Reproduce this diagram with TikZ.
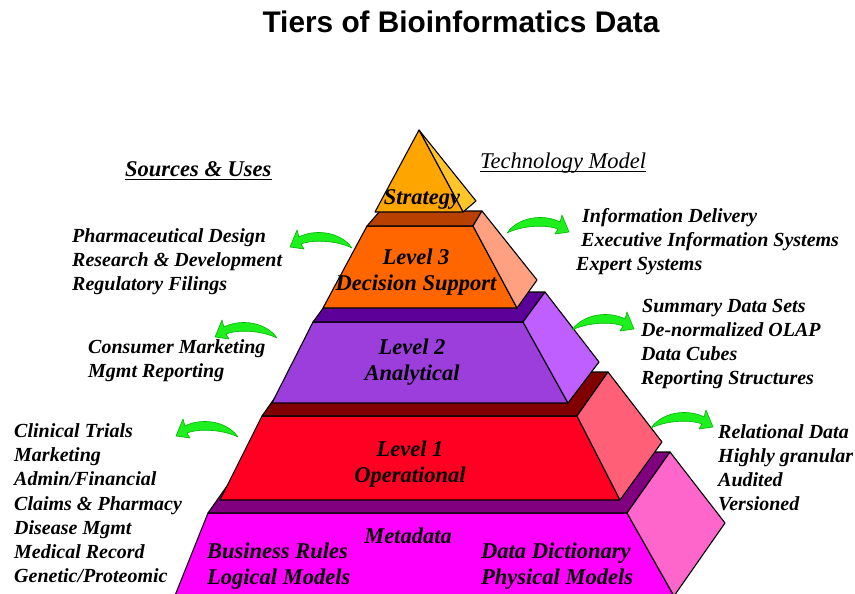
\documentclass[tikz,border=0pt]{standalone}
\usepackage{fontspec}
\setmainfont{Liberation Serif}
\newfontfamily\headfont{Liberation Sans}

% tier colours: front face, top face, side face
\definecolor{stratFront}{HTML}{FFA500}
\definecolor{stratSide}{HTML}{FFC52A}
\definecolor{lthreeFront}{HTML}{FF6600}
\definecolor{lthreeTop}{HTML}{B84000}
\definecolor{lthreeSide}{HTML}{FFA080}
\definecolor{ltwoFront}{HTML}{9B3EDC}
\definecolor{ltwoTop}{HTML}{5C0099}
\definecolor{ltwoSide}{HTML}{BF5FFF}
\definecolor{loneFront}{HTML}{FF0022}
\definecolor{loneTop}{HTML}{800000}
\definecolor{loneSide}{HTML}{FF6078}
\definecolor{metaFront}{HTML}{FF00FF}
\definecolor{metaTop}{HTML}{800080}
\definecolor{metaSide}{HTML}{FF66CC}
\definecolor{arrowgreen}{HTML}{1EF01E}
\definecolor{arrowedge}{HTML}{00B400}

\tikzset{
  face/.style={draw=black, line width=1.1pt, line join=round},
  tierlabel/.style={font=\fontsize{22.5}{27}\selectfont\bfseries\itshape, inner sep=0pt, anchor=base},
  tiernote/.style={font=\fontsize{22.5}{27}\selectfont\bfseries\itshape, inner sep=0pt, anchor=base west},
  usetext/.style={font=\fontsize{20}{24}\selectfont\bfseries\itshape, inner sep=0pt, anchor=base west},
  heading/.style={inner sep=0pt, anchor=base west},
  bentarrow/.pic={
    \filldraw[fill=arrowgreen, draw=arrowedge, line width=0.6pt, line join=round]
      (0,0) .. controls (12,-17) and (38,-19) .. (53,-11)
      -- (55,-18) -- (62,-1) -- (48,1) -- (51,-4)
      .. controls (38,-9) and (14,-7) .. (0,0) -- cycle;
  }
}

\begin{document}
\begin{tikzpicture}[x=1pt,y=-1pt]
\useasboundingbox (0,0) rectangle (855,594);
\clip (0,0) rectangle (855,594);

% ---- Metadata tier ----
\filldraw[face, fill=metaFront] (208,513) -- (627,513) -- (675,598) -- (174,598) -- cycle;
\filldraw[face, fill=metaTop] (208,513) -- (627,513) -- (670,452) -- (251,452) -- cycle;
\filldraw[face, fill=metaSide] (627,513) -- (670,452) -- (725,523) -- (674,596) -- cycle;

% ---- Level 1 ----
\filldraw[face, fill=loneFront] (262,416) -- (577,416) -- (620,500) -- (220,500) -- cycle;
\filldraw[face, fill=loneTop] (262,416) -- (577,416) -- (608,372) -- (293,372) -- cycle;
\filldraw[face, fill=loneSide] (577,416) -- (608,372) -- (662,442) -- (620,500) -- cycle;

% ---- Level 2 ----
\filldraw[face, fill=ltwoFront] (313,322) -- (523,322) -- (568,403) -- (272,403) -- cycle;
\filldraw[face, fill=ltwoTop] (313,322) -- (523,322) -- (545,292) -- (335,292) -- cycle;
\filldraw[face, fill=ltwoSide] (523,322) -- (545,292) -- (599,362) -- (568,403) -- cycle;

% ---- Level 3 ----
\filldraw[face, fill=lthreeFront] (367,226) -- (473,226) -- (517,308) -- (323,308) -- cycle;
\filldraw[face, fill=lthreeTop] (367,226) -- (473,226) -- (482,211) -- (380,211) -- cycle;
\filldraw[face, fill=lthreeSide] (473,226) -- (482,211) -- (537,280) -- (517,308) -- cycle;

% ---- Strategy apex ----
\filldraw[face, fill=stratSide] (419,130) -- (476,201) -- (463,212) -- cycle;
\filldraw[face, fill=stratFront] (419,130) -- (463,212) -- (375,212) -- cycle;

% ---- curved arrows to sources (left) and technology (right) ----
\pic[xscale=-1] at (352,248) {bentarrow};
\pic at (507,233) {bentarrow};
\pic[xscale=-1] at (277,338) {bentarrow};
\pic at (572,330) {bentarrow};
\pic[xscale=-1] at (238,437) {bentarrow};
\pic at (651,428) {bentarrow};

% ---- title and column headings ----
\node[inner sep=0pt, anchor=base, font=\headfont\fontsize{29.8}{34}\selectfont\bfseries]
  (title) at (461,33) {Tiers of Bioinformatics Data};
\node[heading, font=\fontsize{22.5}{27}\selectfont\bfseries\itshape] (srcHead) at (125,176) {Sources \& Uses};
\node[heading, font=\fontsize{22.5}{27}\selectfont\itshape] (techHead) at (480,168) {Technology Model};
\draw[line width=1.1pt] ([yshift=-3.5pt]srcHead.base west) -- ([yshift=-3.5pt]srcHead.base east);
\draw[line width=0.9pt] ([yshift=-3.5pt]techHead.base west) -- ([yshift=-3.5pt]techHead.base east);

% ---- tier labels ----
\node[tierlabel] (strat) at (422,204) {Strategy};
\node[tierlabel] (lthreeA) at (416,264) {Level 3};
\node[tierlabel] (lthreeB) at (416,290.5) {Decision Support};
\node[tierlabel] (ltwoA) at (412,354) {Level 2};
\node[tierlabel] (ltwoB) at (412,380.5) {Analytical};
\node[tierlabel] (loneA) at (410,456) {Level 1};
\node[tierlabel] (loneB) at (410,482) {Operational};
\node[tierlabel] (meta) at (408,543) {Metadata};
\node[tiernote] (bizRules) at (207,558.5) {Business Rules};
\node[tiernote] (logModels) at (207,584) {Logical Models};
\node[tiernote] (dataDict) at (481,558.5) {Data Dictionary};
\node[tiernote] (physModels) at (481,584) {Physical Models};

% ---- technology column ----
\node[usetext] (t1) at (582,222) {Information Delivery};
\node[usetext] (t2) at (581,246.5) {Executive Information Systems};
\node[usetext] (t3) at (576,270) {Expert Systems};
\node[usetext] (t4) at (642,312) {Summary Data Sets};
\node[usetext] (t5) at (641,336) {De-normalized OLAP};
\node[usetext] (t6) at (641,360) {Data Cubes};
\node[usetext] (t7) at (641,384.5) {Reporting Structures};
\node[usetext] (t8) at (718,438.5) {Relational Data};
\node[usetext] (t9) at (718,462) {Highly granular};
\node[usetext] (t10) at (718,486.5) {Audited};
\node[usetext] (t11) at (718,510.5) {Versioned};

% ---- sources and uses column ----
\node[usetext] (s1) at (72,242) {Pharmaceutical Design};
\node[usetext] (s2) at (72,266) {Research \& Development};
\node[usetext] (s3) at (72,290) {Regulatory Filings};
\node[usetext] (s4) at (88,353.5) {Consumer Marketing};
\node[usetext] (s5) at (88,377.5) {Mgmt Reporting};
\node[usetext] (s6) at (14,437) {Clinical Trials};
\node[usetext] (s7) at (14,461) {Marketing};
\node[usetext] (s8) at (14,485.5) {Admin/Financial};
\node[usetext] (s9) at (14,510) {Claims \& Pharmacy};
\node[usetext] (s10) at (14,534) {Disease Mgmt};
\node[usetext] (s11) at (14,558) {Medical Record};
\node[usetext] (s12) at (14,582) {Genetic/Proteomic};
\end{tikzpicture}
\end{document}
